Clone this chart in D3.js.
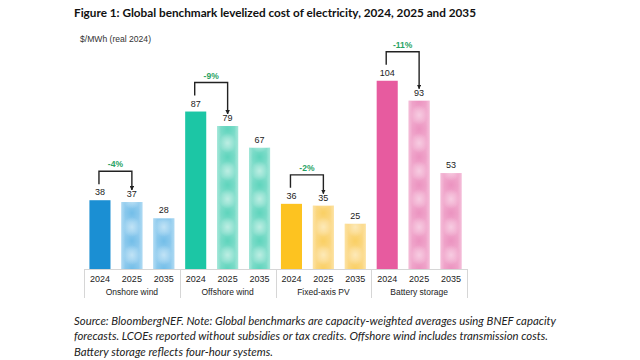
<!DOCTYPE html>
<html><head><meta charset="utf-8">
<script src="https://cdn.jsdelivr.net/npm/d3@7"></script>
<style>body{margin:0;background:#fff}svg{display:block}</style>
</head><body>
<svg id="chart" width="640" height="360"></svg>
<script>
const categories = ["Onshore wind", "Offshore wind", "Fixed-axis PV", "Battery storage"];
const years = ["2024", "2025", "2035"];
const values2024 = [38, 87, 36, 104];
const values2025 = [37, 79, 35, 93];
const values2035 = [28, 67, 25, 53];
const changeLabels = ["-4%", "-9%", "-2%", "-11%"];
const solidColors = ["#1b8fd3", "#1cc6a5", "#fdc320", "#e75b9f"];
const baseColors = ["#92ccee", "#82ddcb", "#fbd886", "#f0a8cc"];
const darkColors = ["#66b8e6", "#4fd0b6", "#f9cc55", "#e98abb"];
const lightColors = ["#c9e7f7", "#c6f1e7", "#fdecc0", "#f8d2e5"];

const svg = d3.select("#chart");
const W = 640, H = 360;
svg.append("rect").attr("width", W).attr("height", H).attr("fill", "#fff");

const defs = svg.append("defs");
categories.forEach((c, i) => {
  const gl = defs.append("radialGradient").attr("id", "gl" + i);
  gl.append("stop").attr("offset", "0%").attr("stop-color", lightColors[i]).attr("stop-opacity", 0.85);
  gl.append("stop").attr("offset", "100%").attr("stop-color", lightColors[i]).attr("stop-opacity", 0);
  const gd = defs.append("radialGradient").attr("id", "gd" + i);
  gd.append("stop").attr("offset", "0%").attr("stop-color", darkColors[i]).attr("stop-opacity", 0.7);
  gd.append("stop").attr("offset", "100%").attr("stop-color", darkColors[i]).attr("stop-opacity", 0);
  const edge = defs.append("linearGradient").attr("id", "ge" + i);
  edge.append("stop").attr("offset", "0%").attr("stop-color", lightColors[i]).attr("stop-opacity", 0.5);
  edge.append("stop").attr("offset", "18%").attr("stop-color", lightColors[i]).attr("stop-opacity", 0);
  edge.append("stop").attr("offset", "82%").attr("stop-color", lightColors[i]).attr("stop-opacity", 0);
  edge.append("stop").attr("offset", "100%").attr("stop-color", lightColors[i]).attr("stop-opacity", 0.5);
});

const plotLeft = 84, plotRight = 467, baseY = 269;
const x0 = d3.scaleBand().domain(categories).range([plotLeft, plotRight]).padding(0);
const x1 = d3.scaleBand().domain(years).range([0, x0.bandwidth()]).paddingInner(0.34).paddingOuter(0.17);
const y = d3.scaleLinear().domain([0, 120]).range([baseY, baseY - 120 * 1.81]);

const rows = [];
categories.forEach((c, i) => {
  [values2024[i], values2025[i], values2035[i]].forEach((v, j) => {
    rows.push({cat: c, ci: i, year: years[j], yi: j, value: v});
  });
});

rows.forEach((d, k) => {
  if (d.yi === 0) return;
  const bx = x0(d.cat) + x1(d.year), bw = x1.bandwidth();
  const p = defs.append("pattern").attr("id", "p" + k).attr("patternUnits", "userSpaceOnUse")
    .attr("x", bx).attr("y", baseY).attr("width", bw).attr("height", 28);
  p.append("rect").attr("width", bw).attr("height", 28).attr("fill", baseColors[d.ci]);
  p.append("ellipse").attr("cx", bw / 2).attr("cy", 0).attr("rx", bw * 0.45).attr("ry", 10).attr("fill", `url(#gd${d.ci})`);
  p.append("ellipse").attr("cx", bw / 2).attr("cy", 28).attr("rx", bw * 0.45).attr("ry", 10).attr("fill", `url(#gd${d.ci})`);
  p.append("ellipse").attr("cx", bw / 2).attr("cy", 14).attr("rx", bw * 0.42).attr("ry", 10).attr("fill", `url(#gl${d.ci})`);
});

const g = svg.append("g");
g.selectAll("rect.bar").data(rows).join("rect").attr("class", "bar")
  .attr("x", d => x0(d.cat) + x1(d.year))
  .attr("width", x1.bandwidth())
  .attr("y", d => y(d.value))
  .attr("height", d => baseY - y(d.value))
  .attr("fill", (d, k) => d.yi === 0 ? solidColors[d.ci] : `url(#p${k})`);
g.selectAll("rect.edge").data(rows.filter(d => d.yi > 0)).join("rect").attr("class", "edge")
  .attr("x", d => x0(d.cat) + x1(d.year))
  .attr("width", x1.bandwidth())
  .attr("y", d => y(d.value))
  .attr("height", d => baseY - y(d.value))
  .attr("fill", d => `url(#ge${d.ci})`);

g.selectAll("text.val").data(rows).join("text").attr("class", "val")
  .attr("x", d => x0(d.cat) + x1(d.year) + x1.bandwidth() / 2)
  .attr("y", d => y(d.value) - 5)
  .attr("text-anchor", "middle")
  .attr("font-family", "Liberation Sans, Arial, sans-serif")
  .attr("font-size", 9).attr("fill", "#222")
  .text(d => d.value);

svg.append("line").attr("x1", plotLeft).attr("x2", plotRight).attr("y1", baseY + 0.5).attr("y2", baseY + 0.5)
  .attr("stroke", "#d6d6d6").attr("stroke-width", 1);
const dividers = categories.map(c => x0(c)).concat([plotRight]);
svg.selectAll("line.div").data(dividers).join("line").attr("class", "div")
  .attr("x1", d => Math.round(d) + 0.5).attr("x2", d => Math.round(d) + 0.5)
  .attr("y1", baseY).attr("y2", 298).attr("stroke", "#d6d6d6");

svg.selectAll("text.yr").data(rows).join("text").attr("class", "yr")
  .attr("x", d => x0(d.cat) + x1(d.year) + x1.bandwidth() / 2)
  .attr("y", 281.5).attr("text-anchor", "middle")
  .attr("font-family", "Liberation Sans, Arial, sans-serif").attr("font-size", 9).attr("fill", "#222")
  .text(d => d.year);
svg.selectAll("text.cat").data(categories).join("text").attr("class", "cat")
  .attr("x", d => x0(d) + x0.bandwidth() / 2)
  .attr("y", 295).attr("text-anchor", "middle")
  .attr("font-family", "Liberation Sans, Arial, sans-serif").attr("font-size", 8.5).attr("fill", "#222")
  .text(d => d);

defs.append("marker").attr("id", "arr").attr("viewBox", "0 0 10 10").attr("refX", 9).attr("refY", 5)
  .attr("markerWidth", 4.5).attr("markerHeight", 4.5).attr("markerUnits", "userSpaceOnUse").attr("orient", "auto")
  .append("path").attr("d", "M0,0L10,5L0,10z").attr("fill", "#222");
categories.forEach((c, i) => {
  const xa = x0(c) + x1("2024") + x1.bandwidth() / 2 - 1;
  const xb = x0(c) + x1("2025") + x1.bandwidth() / 2;
  const top = y(Math.max(values2024[i], values2025[i])) - 29;
  const leftEnd = y(values2024[i]) - 16;
  const tip = y(values2025[i]) - 12;
  svg.append("path")
    .attr("d", `M${xa},${leftEnd}V${top}H${xb}V${tip}`)
    .attr("fill", "none").attr("stroke", "#222").attr("stroke-width", 1.4)
    .attr("marker-end", "url(#arr)");
  svg.append("text").attr("x", (xa + xb) / 2).attr("y", top - 4).attr("text-anchor", "middle")
    .attr("font-family", "Liberation Sans, Arial, sans-serif").attr("font-size", 8.5).attr("font-weight", "bold")
    .attr("fill", "#2aa364").text(changeLabels[i]);
});

svg.append("text").attr("x", 74).attr("y", 16.5).attr("font-family", "Lato, sans-serif")
  .attr("font-weight", "bold").attr("font-size", 12).attr("fill", "#111")
  .attr("textLength", 402).attr("lengthAdjust", "spacingAndGlyphs")
  .text("Figure 1: Global benchmark levelized cost of electricity, 2024, 2025 and 2035");
svg.append("text").attr("x", 80).attr("y", 42).attr("font-family", "Liberation Sans, Arial, sans-serif")
  .attr("font-size", 8.3).attr("fill", "#333")
  .attr("textLength", 71).attr("lengthAdjust", "spacingAndGlyphs")
  .text("$/MWh (real 2024)");

const notes = [
  "Source: BloombergNEF. Note: Global benchmarks are capacity-weighted averages using BNEF capacity",
  "forecasts. LCOEs reported without subsidies or tax credits. Offshore wind includes transmission costs.",
  "Battery storage reflects four-hour systems."
];
const noteWidths = [482, 474, 199];
svg.selectAll("text.note").data(notes).join("text").attr("class", "note")
  .attr("x", 74).attr("y", (d, i) => 324.5 + i * 15.5)
  .attr("font-family", "Lato, sans-serif").attr("font-style", "italic").attr("font-size", 11.3).attr("fill", "#222")
  .attr("textLength", (d, i) => noteWidths[i]).attr("lengthAdjust", "spacingAndGlyphs")
  .text(d => d);
</script>
</body></html>
